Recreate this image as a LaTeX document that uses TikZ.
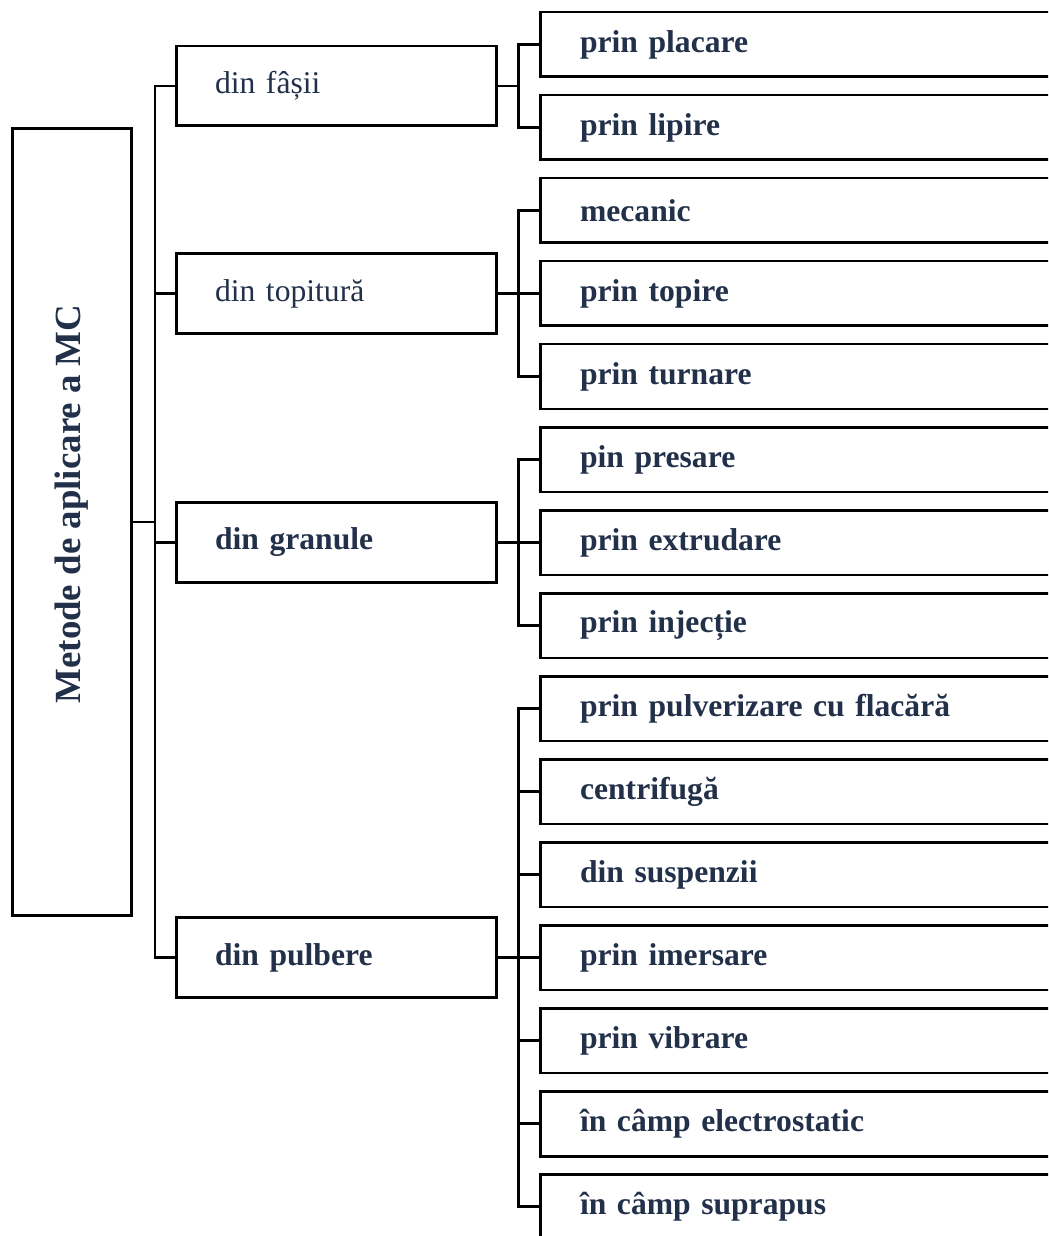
\documentclass[tikz,border=0pt]{standalone}
\usepackage{fontspec}
\setmainfont{Liberation Serif}
\usepackage{tikz}
\usetikzlibrary{positioning}

\definecolor{inkblue}{HTML}{22304A}

\tikzset{
  frame/.style={draw=black,line width=1.7pt},
  rootbox/.style={frame,minimum width=2.4cm,minimum height=15.76cm,inner sep=0pt},
  roottext/.style={rotate=90,text=inkblue,font=\fontsize{21}{24}\selectfont\bfseries},
  groupbox/.style={frame,text width=4.86cm,align=left,inner xsep=0.78cm,minimum height=1.6cm,
    text=inkblue,font=\fontsize{18}{21}\selectfont},
  methodbox/.style={frame,text width=9cm,align=left,inner xsep=0.8cm,minimum height=1.3cm,
    text=inkblue,font=\fontsize{18}{21}\selectfont\bfseries},
  conn/.style={line width=1.7pt,line cap=rect}
}

\begin{document}
\begin{tikzpicture}[x=0.02cm,y=-0.02cm]
    \useasboundingbox (0,0) rectangle (1048,1236);
    \clip (0,0) rectangle (1048,1236);

    % root
    \node[rootbox] (root) at (72,522) {};
    \node[roottext] (roottitle) at (72,504) {Metode de aplicare a MC};

    % second level
    \node[groupbox] (fasii) at (336.5,86) {din fâșii};
    \node[groupbox] (topitura) at (336.5,293.5) {din topitură};
    \node[groupbox,font=\fontsize{18}{21}\selectfont\bfseries] (granule) at (336.5,542.5) {din granule};
    \node[groupbox,font=\fontsize{18}{21}\selectfont\bfseries] (pulbere) at (336.5,957.5) {din pulbere};

    % third level
    \node[methodbox] (placare) at (805,44.5) {prin placare};
    \node[methodbox] (lipire) at (805,127.5) {prin lipire};
    \node[methodbox] (mecanic) at (805,210.5) {mecanic};
    \node[methodbox] (topire) at (805,293.5) {prin topire};
    \node[methodbox] (turnare) at (805,376.5) {prin turnare};
    \node[methodbox] (presare) at (805,459.5) {pin presare};
    \node[methodbox] (extrudare) at (805,542.5) {prin extrudare};
    \node[methodbox] (injectie) at (805,625.5) {prin injecție};
    \node[methodbox] (flacara) at (805,708.5) {prin pulverizare cu flacără};
    \node[methodbox] (centrifuga) at (805,791.5) {centrifugă};
    \node[methodbox] (suspenzii) at (805,874.5) {din suspenzii};
    \node[methodbox] (imersare) at (805,957.5) {prin imersare};
    \node[methodbox] (vibrare) at (805,1040.5) {prin vibrare};
    \node[methodbox] (electro) at (805,1123.5) {în câmp electrostatic};
    \node[methodbox] (suprapus) at (805,1206.5) {în câmp suprapus};

    % buses
    \coordinate (busA) at (155,0);
    \coordinate (busB) at (518,0);

    % root to second level
    \draw[conn] (root.east) -- (root.east -| busA);
    \draw[conn] (fasii.west -| busA) -- (pulbere.west -| busA);
    \foreach \g in {fasii,topitura,granule,pulbere}
      \draw[conn] (\g.west) -- (\g.west -| busA);

    % second level to third level
    \foreach \g/\first/\last/\kids in {fasii/placare/lipire/{placare,lipire},
        topitura/mecanic/turnare/{mecanic,topire,turnare},
        granule/presare/injectie/{presare,extrudare,injectie},
        pulbere/flacara/suprapus/{flacara,centrifuga,suspenzii,imersare,vibrare,electro,suprapus}}{
      \draw[conn] (\g.east) -- (\g.east -| busB);
      \draw[conn] (\first.west -| busB) -- (\last.west -| busB);
      \foreach \k in \kids
        \draw[conn] (\k.west) -- (\k.west -| busB);
    }
\end{tikzpicture}
\end{document}
